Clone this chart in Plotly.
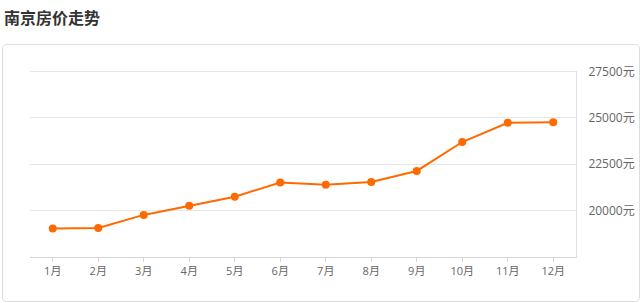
import plotly.graph_objects as go

months = ["1月", "2月", "3月", "4月", "5月", "6月", "7月", "8月", "9月", "10月", "11月", "12月"]
prices = [19040, 19070, 19770, 20270, 20750, 21520, 21390, 21550, 22140, 23700, 24740, 24770]
y_ticks = [20000, 22500, 25000, 27500]
y_tick_labels = ["20000元", "22500元", "25000元", "27500元"]
title_text = "南京房价走势"

W, H = 640, 303
L, R, T, B = 30, 64, 71, 46
pw, ph = W - L - R, H - T - B

def px2paper(x, y):
    return (x - L) / pw, (H - B - y) / ph

fig = go.Figure()
fig.add_trace(go.Scatter(
    x=months, y=prices, mode="lines+markers",
    line=dict(color="#ff6a00", width=2),
    marker=dict(color="#ff6a00", size=8),
    hoverinfo="x+y", showlegend=False,
))

# rounded box border
x0, y0, x1, y1, r = 2.5, 44.5, 639.5, 301.5, 4
def P(x, y):
    a, b = px2paper(x, y)
    return f"{a:.5f},{b:.5f}"
path = (f"M {P(x0 + r, y0)} L {P(x1 - r, y0)} Q {P(x1, y0)} {P(x1, y0 + r)} "
        f"L {P(x1, y1 - r)} Q {P(x1, y1)} {P(x1 - r, y1)} "
        f"L {P(x0 + r, y1)} Q {P(x0, y1)} {P(x0, y1 - r)} "
        f"L {P(x0, y0 + r)} Q {P(x0, y0)} {P(x0 + r, y0)} Z")
fig.add_shape(type="path", path=path, xref="paper", yref="paper",
              line=dict(color="#dddddd", width=1), layer="below")

# top gridline (plotly hides grid at the range edge)
fig.add_shape(type="line", xref="paper", yref="y", x0=0, x1=1,
              y0=y_ticks[-1], y1=y_ticks[-1],
              line=dict(color="#e6e6e6", width=1), layer="below")

tx, ty = px2paper(2, 17)
fig.add_annotation(text=f"<b>{title_text}</b>", x=tx, y=ty, xref="paper", yref="paper",
                   xanchor="left", yanchor="middle", showarrow=False,
                   font=dict(size=16, color="#333333", family="Noto Sans CJK SC"))

fig.update_layout(
    width=W, height=H,
    margin=dict(l=L, r=R, t=T, b=B),
    paper_bgcolor="white", plot_bgcolor="white",
    font=dict(family="Open Sans, Noto Sans CJK SC", size=12, color="#666666"),
    xaxis=dict(
        type="category", showgrid=False, zeroline=False, automargin=False,
        showline=True, linecolor="#d5d5d5", linewidth=1,
        ticks="outside", ticklen=4, tickcolor="#d5d5d5",
        tickfont=dict(size=11, color="#666666"),
        range=[-0.5, 11.5],
    ),
    yaxis=dict(
        side="right", range=[17500, 27530], automargin=False,
        tickvals=y_ticks, ticktext=y_tick_labels,
        showgrid=True, gridcolor="#e6e6e6", gridwidth=1,
        zeroline=False, showline=True, linecolor="#e0e0e0", linewidth=1,
        ticks="", ticklabelstandoff=9,
        tickfont=dict(size=12, color="#666666"),
    ),
)

fig.write_html("out.html")
